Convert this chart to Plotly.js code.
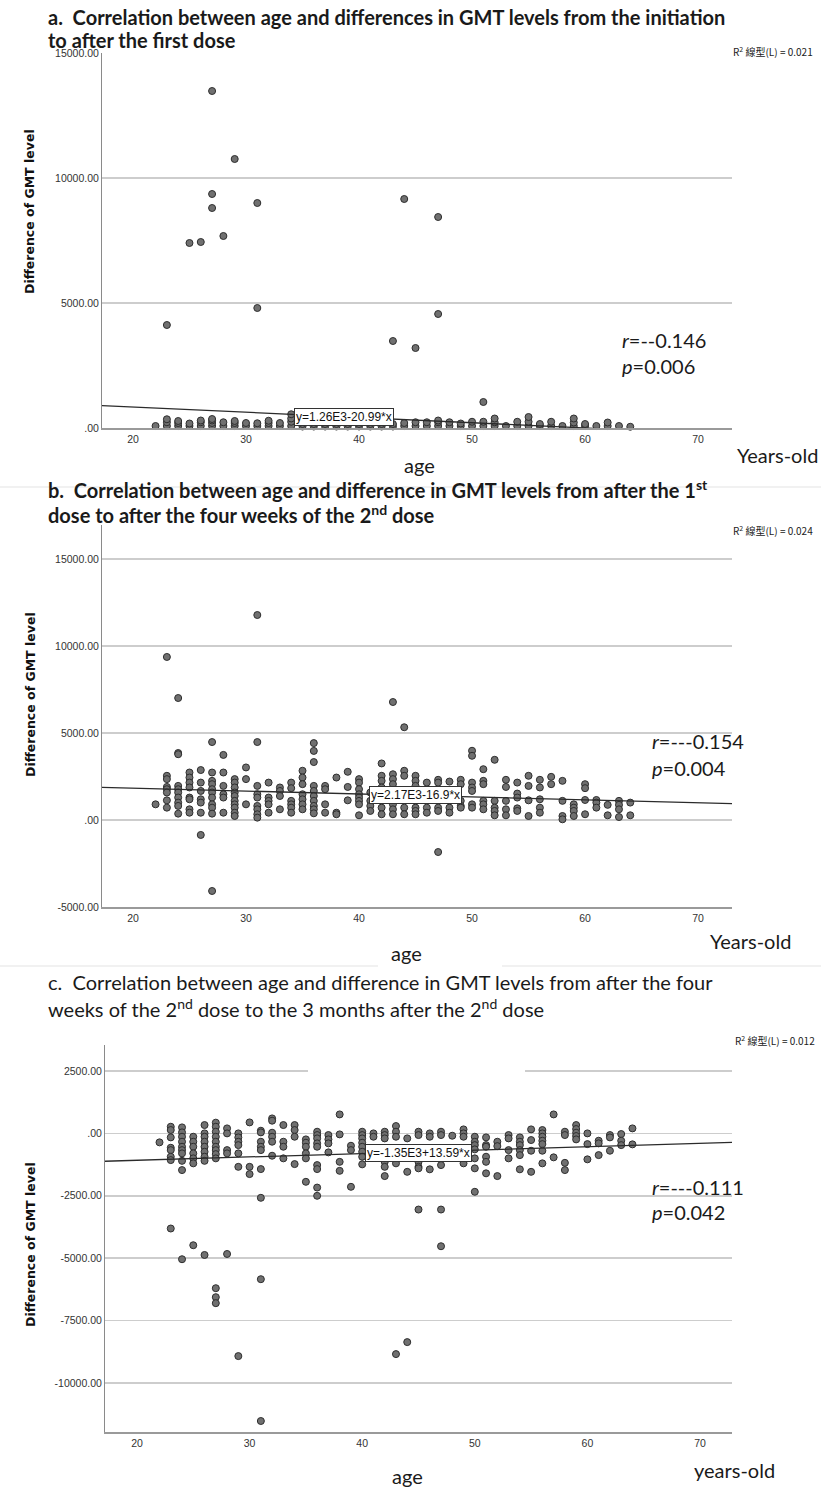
<!DOCTYPE html>
<html>
<head>
<meta charset="utf-8">
<script src="https://cdn.plot.ly/plotly-3.0.1.min.js"></script>
<style>html,body{margin:0;padding:0;background:#fff;}#chart{width:821px;height:1488px;}</style>
</head>
<body>
<div id="chart"></div>
<script>
// ---------------- DATA ----------------
const ages = [22,23,24,25,26,27,28,29,30,31,32,33,34,35,36,37,38,39,40,41,42,43,44,45,46,47,48,49,50,51,52,53,54,55,56,57,58,59,60,61,62,63,64];

// Panel a: difference of GMT level, initiation -> after first dose (per age)
const diffA = [
  [80],[80,230,350,4120],[80,200,280],[80,180,7400],[80,230,300,7440],
  [80,200,300,360,8800,9360,13480],[80,230,7680],[80,200,280,10760],[80,200],[80,190,4800,9000],
  [80,200,290],[80,200],[80,250,380,550],[60,160],[60,160],
  [60,160],[60,160],[60,160],[60,160],[60,160],
  [60,160],[60,160,3480],[80,200,9160],[80,230,3200],[80,230],
  [80,230,300,4560,8440],[80,230],[80,180],[80,250],[80,250,1040],
  [80,230,380],[80],[80,250],[80,250,440],[80,160],
  [80,250],[80],[80,220,380],[80,160],[80],
  [80,220],[80],[50]
];

// Panel b: after 1st dose -> four weeks after 2nd dose
const diffB = [
  [900],
  [2540,2350,1900,1770,1580,1130,710,9370],
  [3850,3780,1960,1770,1580,1290,1000,810,365,7010],
  [2730,2440,2150,1870,1290,1190,615,420],
  [2870,2150,1670,1190,1000,420,-860],
  [4480,2730,2250,2060,1770,1580,1290,900,710,365,-4080],
  [3740,2730,1960,1480,1290,420],
  [2350,2150,1870,1580,1380,1100,900,710,420,230],
  [3020,2350,900],
  [11780,4480,1960,1480,1290,810,615,330,135],
  [2150,1290,1100,900,420],
  [1870,1670,1380,615],
  [2150,1830,1100,900,710,420],
  [2830,2440,2060,1480,1190,900,615],
  [4420,3970,3330,1960,1670,1380,1100,810,615,385],
  [1960,1770,900,420],
  [2440,420,330],
  [2770,1900,1130],
  [2350,2150,1770,1480,1290,1100,900,270],
  [1580,1100,810,520],
  [3250,2540,2250,1870,1100,710,330],
  [6780,2630,2350,2060,900,615,330],
  [5330,2830,2540,710,330],
  [2540,2250,1960,1100,710,520,330],
  [2150,710,420],
  [2310,2150,710,520,-1840],
  [2210,1100,710,420],
  [2310,2060,1100,810,710],
  [3980,3690,2150,1870,1670,900,710],
  [2920,2250,2060,1100,900,615],
  [3460,1100,710,520,270],
  [2310,1900,1100,615,270],
  [2150,1520,1290,670,520],
  [2540,1960,1130,230],
  [2310,1870,1190,710,420],
  [2480,2060],
  [2250,1100,230,40],
  [900,710,520,230],
  [2060,1830,1150,330],
  [1150,1000,710],
  [870,270],
  [1100,870,615,170],
  [1000,270]
];

// Panel c: four weeks after 2nd dose -> 3 months after 2nd dose
const diffC = [
  [-360],
  [267,134,-160,-575,-670,-935,-1070,-3810],
  [240,40,-134,-334,-535,-670,-800,-1100,-1470,-5040],
  [-134,-334,-535,-800,-1000,-1200,-4480],
  [334,0,-134,-334,-535,-735,-935,-1100,-4870],
  [430,267,67,-134,-334,-535,-670,-830,-1000,-6200,-6560,-6800],
  [200,0,-670,-800,-4830],
  [0,-160,-334,-470,-800,-1340,-8920],
  [440,-1340,-1630],
  [107,40,-334,-535,-670,-1430,-2580,-5840,-11520],
  [600,508,27,-134,-334,-895],
  [334,-334,-535,-1000],
  [334,134,-134,-1230],
  [-240,-374,-535,-800,-1000,-1940],
  [67,-67,-200,-400,-535,-1270,-1430,-2170,-2500],
  [-67,-240,-400,-760],
  [760,-40,-1140,-1500],
  [-495,-670,-2140],
  [67,-67,-200,-374,-535,-735,-935,-1240],
  [0,-134],
  [67,-67,-200,-1140,-1340,-1710],
  [294,67,-134,-1200,-8840],
  [-200,-1540,-8360],
  [67,-67,-1140,-1340,-1400,-3050],
  [0,-134,-1440],
  [67,-67,-1270,-3050,-4520],
  [-94],
  [160,0,-134,-1200],
  [-134,-334,-470,-640,-1000,-1400,-2340],
  [-160,-470,-535,-935,-1140,-1600],
  [-334,-510,-1710],
  [-67,-200,-670,-1000],
  [-160,-334,-470,-670,-870,-1440],
  [160,-267,-695,-1540],
  [134,0,-134,-294,-430,-695,-1200],
  [760,-960],
  [67,-67,-1180,-1470],
  [334,174,27,-107,-240],
  [0,-430,-1040],
  [-294,-400,-870],
  [-67,-160,-695],
  [-27,-294,-470],
  [200,-440]
];

// Linear fit coefficients [intercept, slope] as printed on the chart
const fitA = [1260, -20.99];
const fitB = [2170, -16.9];
const fitC = [-1350, 13.59];
const fitLabels = ['y=1.26E3-20.99*x', 'y=2.17E3-16.9*x', 'y=-1.35E3+13.59*x'];
const r2Labels = ['0.021', '0.024', '0.012'];
const rLabels = ['--0.146', '---0.154', '---0.111'];
const pLabels = ['0.006', '0.004', '0.042'];

const xTicks = [20,30,40,50,60,70];
const yTicksA = [0,5000,10000,15000];
const yTextA = ['.00','5000.00','10000.00','15000.00'];
const yTicksB = [-5000,0,5000,10000,15000];
const yTextB = ['-5000.00','.00','5000.00','10000.00','15000.00'];
const yTicksC = [-10000,-7500,-5000,-2500,0,2500];
const yTextC = ['-10000.00','-7500.00','-5000.00','-2500.00','.00','2500.00'];

// ---------------- LAYOUT HELPERS ----------------
const W = 821, H = 1488;
const px = x => x / W;
const py = y => 1 - y / H;

const xRangeAB = [17.26, 73.0];
const xRangeC = [17.16, 72.84];

function flatten(groups) {
  const xs = [], ys = [];
  groups.forEach((g, i) => g.forEach(v => { xs.push(ages[i]); ys.push(v); }));
  return {xs, ys};
}

const markerStyle = {size: 7, color: '#707070', line: {color: '#2e2e2e', width: 1}};

function scatter(groups, xa, ya) {
  const f = flatten(groups);
  return {x: f.xs, y: f.ys, xaxis: xa, yaxis: ya, type: 'scatter', mode: 'markers',
          marker: markerStyle, cliponaxis: false, hoverinfo: 'skip', showlegend: false};
}
function fitLine(coef, xr, xa, ya) {
  return {x: xr, y: xr.map(v => coef[0] + coef[1] * v), xaxis: xa, yaxis: ya,
          type: 'scatter', mode: 'lines', line: {color: '#2b2b2b', width: 1.3},
          hoverinfo: 'skip', showlegend: false};
}

const data = [
  scatter(diffA, 'x', 'y'), fitLine(fitA, xRangeAB, 'x', 'y'),
  scatter(diffB, 'x2', 'y2'), fitLine(fitB, xRangeAB, 'x2', 'y2'),
  scatter(diffC, 'x3', 'y3'), fitLine(fitC, xRangeC, 'x3', 'y3')
];

const tickFont = {family: 'Liberation Sans Narrow, Arial Narrow, Liberation Sans, sans-serif', size: 10.5, color: '#333'};
function xAxis(domain, range, anchor) {
  return {domain, range, anchor, tickvals: xTicks, ticktext: xTicks.map(String), tickfont: tickFont,
          showgrid: false, zeroline: false, showline: true, linecolor: '#9a9a9a', linewidth: 2,
          ticks: '', fixedrange: true};
}
function yAxis(domain, range, anchor, vals, text) {
  return {domain, range, anchor, tickvals: vals, ticktext: text, tickfont: tickFont,
          showgrid: true, gridcolor: '#cdcdcd', gridwidth: 1.6, zeroline: false,
          showline: true, linecolor: '#8a8a8a', linewidth: 1, ticks: '', fixedrange: true};
}

const titleFont = {family: 'Lato, Open Sans, sans-serif', size: 20, color: '#1a1a1a'};
const bigFont = {family: 'Lato, Open Sans, sans-serif', size: 20, color: '#1a1a1a'};
const rpFont = {family: 'Lato, Open Sans, sans-serif', size: 20, color: '#1a1a1a'};
const smallFont = {family: 'Liberation Sans Narrow, Arial Narrow, Noto Sans CJK TC, sans-serif', size: 10, color: '#222'};
const yTitleFont = {family: 'DejaVu Sans, sans-serif', size: 12.5, color: '#111'};

function ann(text, x, y, font, extra) {
  return Object.assign({text, x: px(x), y: py(y), xref: 'paper', yref: 'paper',
    showarrow: false, xanchor: 'left', yanchor: 'middle', font}, extra || {});
}
function box(text, x, y) {
  return ann(text, x, y, {family: 'Liberation Sans Narrow, Arial Narrow, sans-serif', size: 12, color: '#111'},
    {xanchor: 'center', bgcolor: '#ffffff', bordercolor: '#333', borderwidth: 1, borderpad: 1});
}

const annotations = [
  // Titles
  ann('<b>a.  Correlation between age and differences in GMT levels from the initiation</b>', 46, 17, titleFont),
  ann('<b>to after the first dose</b>', 46, 40, titleFont),
  ann('<b>b.  Correlation between age and difference in GMT levels from after the 1<sup>st</sup></b>', 46, 489, titleFont),
  ann('<b>dose to after the four weeks of the 2<sup>nd</sup> dose</b>', 46, 514, titleFont),
  ann('c.  Correlation between age and difference in GMT levels from after the four', 46, 982, titleFont),
  ann('weeks of the 2<sup>nd</sup> dose to the 3 months after the 2<sup>nd</sup> dose', 46, 1008, titleFont),
  // R2 labels
  ann('R<sup>2</sup> 線型(L) = ' + r2Labels[0], 731, 52, smallFont),
  ann('R<sup>2</sup> 線型(L) = ' + r2Labels[1], 731, 530, smallFont),
  ann('R<sup>2</sup> 線型(L) = ' + r2Labels[2], 733, 1040, smallFont),
  // Fit labels
  box(fitLabels[0], 344, 417),
  box(fitLabels[1], 416, 795),
  box(fitLabels[2], 418, 1153),
  // r / p
  ann('<i>r</i>=' + rLabels[0], 620, 340, rpFont),
  ann('<i>p</i>=' + pLabels[0], 620, 366, rpFont),
  ann('<i>r</i>=' + rLabels[1], 650, 741, rpFont),
  ann('<i>p</i>=' + pLabels[1], 650, 768, rpFont),
  ann('<i>r</i>=' + rLabels[2], 650, 1187, rpFont),
  ann('<i>p</i>=' + pLabels[2], 650, 1212, rpFont),
  // x titles
  ann('age', 420, 465, bigFont, {xanchor: 'center'}),
  ann('age', 406, 953, bigFont, {xanchor: 'center'}),
  ann('age', 407, 1476, bigFont, {xanchor: 'center'}),
  ann('Years-old', 735, 455, bigFont),
  ann('Years-old', 708, 941, bigFont),
  ann('years-old', 692, 1470, bigFont),
  // y titles
  ann('<b>Difference of GMT level</b>', 30, 212, yTitleFont, {xanchor: 'center', textangle: -90}),
  ann('<b>Difference of GMT level</b>', 30, 695, yTitleFont, {xanchor: 'center', textangle: -90}),
  ann('<b>Difference of GMT level</b>', 30, 1245, yTitleFont, {xanchor: 'center', textangle: -90})
];

const shapes = [
  {type: 'line', xref: 'paper', yref: 'paper', x0: 0, x1: 1, y0: py(487), y1: py(487), line: {color: '#e3e3e3', width: 1}},
  {type: 'line', xref: 'paper', yref: 'paper', x0: 0, x1: px(378), y0: py(966), y1: py(966), line: {color: '#e3e3e3', width: 1}},
  {type: 'line', xref: 'paper', yref: 'paper', x0: px(502), x1: 1, y0: py(966), y1: py(966), line: {color: '#e3e3e3', width: 1}},
  {type: 'rect', xref: 'paper', yref: 'paper', x0: px(308), x1: px(525), y0: py(1075), y1: py(1067), fillcolor: '#ffffff', line: {width: 0}, layer: 'above'}
];

const layout = {
  width: W, height: H, margin: {l: 0, r: 0, t: 0, b: 0},
  paper_bgcolor: '#ffffff', plot_bgcolor: 'rgba(0,0,0,0)', showlegend: false,
  xaxis: xAxis([px(102), px(732)], xRangeAB, 'y'),
  yaxis: yAxis([py(428), py(53)], [0, 15000], 'x', yTicksA, yTextA),
  xaxis2: xAxis([px(102), px(732)], xRangeAB, 'y2'),
  yaxis2: yAxis([py(907), py(525)], [-5000, 16954], 'x2', yTicksB, yTextB),
  xaxis3: xAxis([px(105), px(732)], xRangeC, 'y3'),
  yaxis3: yAxis([py(1432), py(1045)], [-11960, 3540], 'x3', yTicksC, yTextC),
  annotations, shapes
};

Plotly.newPlot('chart', data, layout, {displayModeBar: false, staticPlot: true});
</script>
</body>
</html>
